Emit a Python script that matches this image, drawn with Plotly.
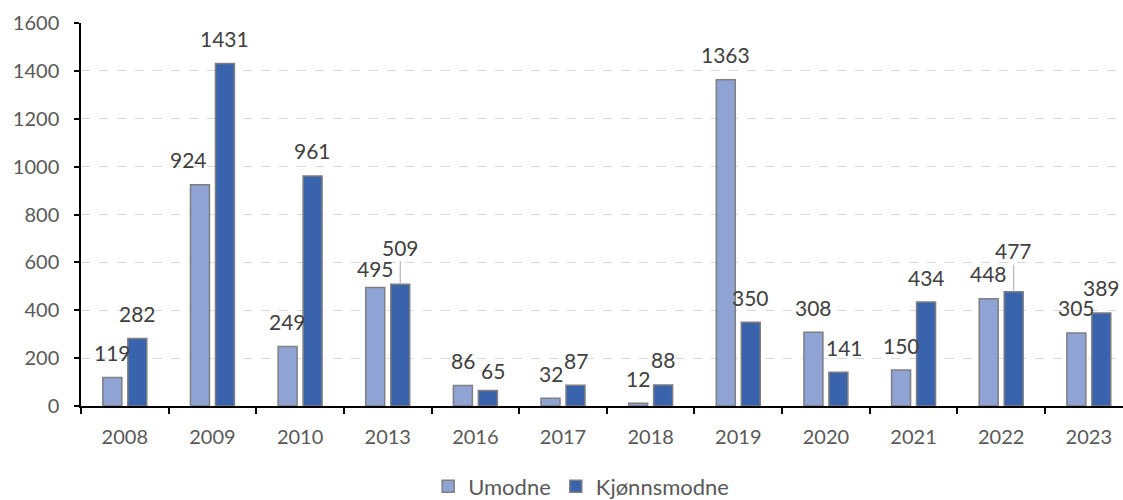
import plotly.graph_objects as go

years = ["2008", "2009", "2010", "2013", "2016", "2017", "2018", "2019", "2020", "2021", "2022", "2023"]
umodne = [119, 924, 249, 495, 86, 32, 12, 1363, 308, 150, 448, 305]
kjonnsmodne = [282, 1431, 961, 509, 65, 87, 88, 350, 141, 434, 477, 389]

# label nudges (px) for the few labels moved by hand in the original: (dx, dy, leader line)
nudge = {
    ("Umodne", "2009"): (-11, 0, False),
    ("Umodne", "2013"): (0, -6, False),
    ("Kjønnsmodne", "2013"): (0, 12, True),
    ("Kjønnsmodne", "2016"): (5, -5, False),
    ("Kjønnsmodne", "2020"): (6, 0, False),
    ("Kjønnsmodne", "2022"): (0, 16, True),
}

FONT = "Lato, 'Open Sans', sans-serif"

fig = go.Figure()
fig.add_bar(name="Umodne", x=years, y=umodne,
            marker=dict(color="#8FA3D5", line=dict(color="#7F7F7F", width=1.5)))
fig.add_bar(name="Kjønnsmodne", x=years, y=kjonnsmodne,
            marker=dict(color="#3A63AD", line=dict(color="#7F7F7F", width=1.5)))

annots = []
for name, vals, side in [("Umodne", umodne, -12.5), ("Kjønnsmodne", kjonnsmodne, 12.5)]:
    for i, (yr, v) in enumerate(zip(years, vals)):
        dx, dy, leader = nudge.get((name, yr), (0, 0, False))
        a = dict(x=i, y=v, text=str(v), xref="x", yref="y",
                 font=dict(size=21, color="#404040", family=FONT))
        if leader:
            a.update(showarrow=True, arrowhead=0, arrowwidth=1, arrowcolor="#A6A6A6",
                     ax=dx, ay=-(25 + dy), xshift=side)
        else:
            a.update(showarrow=False, xshift=side + dx, yshift=25 + dy, yanchor="middle")
        annots.append(a)

fig.update_layout(
    width=1123, height=500,
    margin=dict(l=81, r=0, t=23, b=94, autoexpand=False),
    plot_bgcolor="white", paper_bgcolor="white",
    barmode="group", bargap=0.43, bargroupgap=0.24,
    font=dict(family=FONT, size=20, color="#595959"),
    annotations=annots,
    showlegend=True,
    legend=dict(orientation="h", x=0.48, xanchor="center", y=-0.21, yanchor="middle",
                font=dict(size=22, color="#595959"), itemwidth=30),
    xaxis=dict(type="category", range=[-0.5, 11.39], showline=True, linecolor="black",
               linewidth=1.5, ticks="outside", tickson="boundaries", ticklen=6,
               tickcolor="black", tickwidth=1.5, ticklabelstandoff=12, automargin=False,
               tickfont=dict(size=20, color="#595959")),
    yaxis=dict(range=[0, 1600], dtick=200, showline=True, linecolor="black", linewidth=1.5,
               ticks="outside", ticklen=5, tickcolor="black", tickwidth=1.5,
               ticklabelstandoff=11, automargin=False,
               showgrid=True, gridcolor="#D9D9D9", griddash="dash", gridwidth=1,
               zeroline=False, tickfont=dict(size=20, color="#595959")),
)

fig.write_html("out.html", config={"displayModeBar": False},
               post_script="document.body.style.margin='0';")
